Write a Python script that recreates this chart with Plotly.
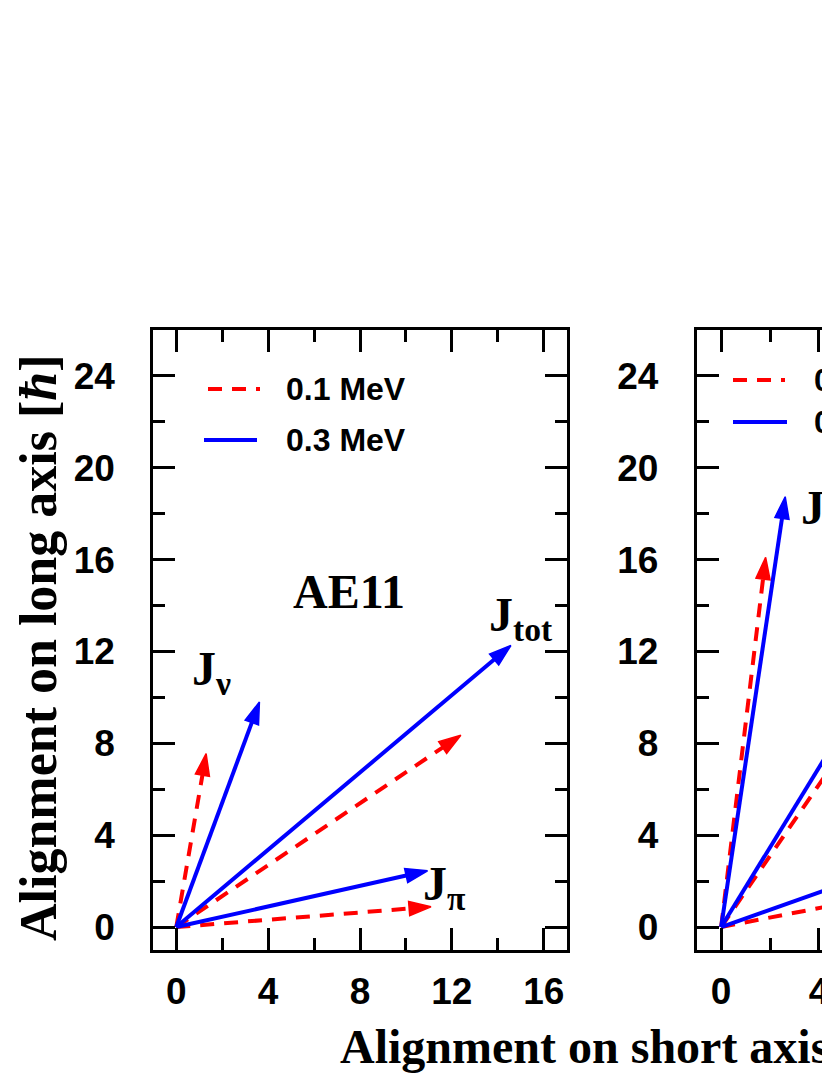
import plotly.graph_objects as go

# ---------------- data ----------------
# Panel 1 (AE11): vector tips, origin at (0, 0)
p1_red_nu = [1.30, 7.55]
p1_red_pi = [11.09, 0.88]
p1_red_tot = [12.39, 8.35]
p1_blue_nu = [3.62, 9.80]
p1_blue_pi = [10.94, 2.45]
p1_blue_tot = [14.57, 12.26]

# Panel 2 (partly visible)
p2_red_nu = [1.82, 16.10]
p2_red_pi = [9.88, 2.04]
p2_red_tot = [11.70, 18.14]
p2_blue_nu = [2.62, 18.74]
p2_blue_pi = [10.45, 3.94]
p2_blue_tot = [13.07, 22.68]

legend_names = ["0.1 MeV", "0.3 MeV"]
x_ticks = [0, 4, 8, 12, 16]
y_ticks = [0, 4, 8, 12, 16, 20, 24]

RED = "#ff0000"
BLUE = "#0000ff"
SERIF = "Liberation Serif, Times New Roman, serif"
SANS = "Liberation Sans, Arial, sans-serif"

# page body has an 8 px margin
W, H = 830, 1067
OFF = 8


def px(xs):
    return (xs - OFF) / W


def py(ys):
    return 1 - (ys - OFF) / H


fig = go.Figure()
DASH = "14px,10px"


def add_vec(tip, color, dash, xa, ya):
    fig.add_trace(go.Scatter(
        x=[0, tip[0]], y=[0, tip[1]], mode="lines+markers",
        xaxis=xa, yaxis=ya, showlegend=False, hoverinfo="skip",
        line=dict(color=color, width=4, dash=dash),
        marker=dict(symbol="arrow", size=[0, 23], color=color, opacity=1,
                    angleref="previous", line=dict(width=1.5, color=color)),
    ))


for tip in (p1_red_nu, p1_red_tot, p1_red_pi):
    add_vec(tip, RED, DASH, "x", "y")
for tip in (p1_blue_nu, p1_blue_tot, p1_blue_pi):
    add_vec(tip, BLUE, "solid", "x", "y")
for tip in (p2_red_nu, p2_red_tot, p2_red_pi):
    add_vec(tip, RED, DASH, "x2", "y2")
for tip in (p2_blue_nu, p2_blue_tot, p2_blue_pi):
    add_vec(tip, BLUE, "solid", "x2", "y2")

axis_common = dict(
    showline=True, linewidth=3, linecolor="black",
    ticks="inside", ticklen=22, tickwidth=3, tickcolor="black",
    showgrid=False, zeroline=False,
    tickfont=dict(family=SANS, size=37, color="black", weight="bold"),
    minor=dict(ticks="inside", ticklen=12, tickwidth=3, tickcolor="black", dtick=2, showgrid=False),
)

dom_y = [py(950), py(330)]

fig.update_layout(
    width=W, height=H,
    margin=dict(l=0, r=0, t=0, b=0),
    plot_bgcolor="white", paper_bgcolor="white",
    showlegend=False,
    xaxis=dict(axis_common, domain=[px(153.3), px(566.7)], range=[-1, 17],
               tickvals=x_ticks, mirror="ticks", ticklabelstandoff=7),
    yaxis=dict(axis_common, domain=dom_y, range=[-1, 26],
               tickvals=y_ticks, mirror="ticks", ticklabelstandoff=28),
    xaxis2=dict(axis_common, domain=[px(696.7), px(838)], range=[-1, 4.78],
                tickvals=x_ticks, mirror="ticks", ticklabelstandoff=7, anchor="y2"),
    yaxis2=dict(axis_common, domain=dom_y, range=[-1, 26],
                tickvals=y_ticks, mirror=False, ticklabelstandoff=28, anchor="x2"),
)

# legend keys (drawn as in the original: long line samples)
leg_font = dict(family=SANS, size=32, color="black", weight="bold")
legends = [
    # (x0, x1, y, text_x, color, dash, name)
    (208, 260, 389, 284, RED, DASH, legend_names[0]),
    (204, 257, 440, 284, BLUE, "solid", legend_names[1]),
    (733, 785, 380, 812, RED, DASH, legend_names[0]),
    (733, 787, 422, 812, BLUE, "solid", legend_names[1]),
]
for x0, x1, yy, tx, color, dash, name in legends:
    fig.add_shape(type="line", xref="paper", yref="paper",
                  x0=px(x0), x1=px(x1), y0=py(yy), y1=py(yy),
                  line=dict(color=color, width=4, dash=dash))
    fig.add_annotation(text=name, xref="paper", yref="paper", x=px(tx), y=py(yy),
                       xanchor="left", yanchor="middle", showarrow=False, font=leg_font)

lab_font = dict(family=SERIF, size=48, color="black", weight="bold")
annos = [
    dict(text="AE11", x=7.54, y=14.6, xref="x", yref="y", xanchor="center", yanchor="middle", font=lab_font),
    dict(text="J<sub>ν</sub>", x=0.6, y=11.1, xref="x", yref="y", xanchor="left", yanchor="middle", font=lab_font),
    dict(text="J<sub>tot</sub>", x=13.55, y=13.45, xref="x", yref="y", xanchor="left", yanchor="middle", font=lab_font),
    dict(text="J<sub>π</sub>", x=10.65, y=1.75, xref="x", yref="y", xanchor="left", yanchor="middle", font=lab_font),
    dict(text="J<sub>ν</sub>", x=3.2, y=18.1, xref="x2", yref="y2", xanchor="left", yanchor="middle", font=lab_font),
    dict(text="Alignment on short axis [<i>ħ</i>]", x=px(338), y=py(1046), xref="paper", yref="paper",
         xanchor="left", yanchor="middle", font=dict(family=SERIF, size=48, color="black", weight="bold")),
    dict(text="Alignment on long axis [<i>ħ</i>]", x=px(38), y=py(648), xref="paper", yref="paper",
         xanchor="center", yanchor="middle", textangle=-90,
         font=dict(family=SERIF, size=52, color="black", weight="bold")),
]
for a in annos:
    a["showarrow"] = False
    fig.add_annotation(**a)

fig.write_html("out.html")
